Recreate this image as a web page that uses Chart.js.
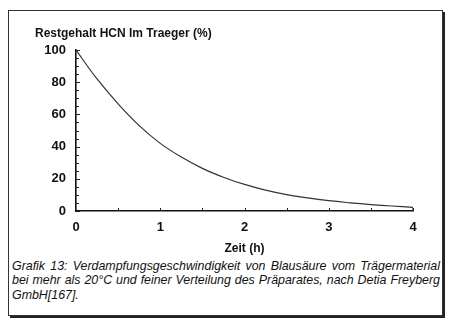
<!DOCTYPE html>
<html>
<head>
<meta charset="utf-8">
<script src="https://cdn.jsdelivr.net/npm/chart.js@4"></script>
<style>
  body { margin: 0; background: #fff; }
  #page { position: relative; width: 454px; height: 322px; overflow: hidden; }
  #frame {
    position: absolute; left: 8px; top: 10px; width: 433px; height: 304px;
    border: 1px solid #333; box-shadow: 2px 2px 0 #222;
  }
  #plot { position: absolute; left: 0; top: 0; width: 454px; height: 258px; }
  #caption {
    position: absolute; left: 12px; top: 259px; width: 428px;
    font: italic 12.4px "Liberation Sans", Arial, sans-serif;
    line-height: 14.3px; color: #111;
  }
  #caption .full { text-align: justify; text-align-last: justify; white-space: nowrap; }
</style>
</head>
<body>
<div id="page">
  <div id="frame"></div>
  <div id="plot"><canvas id="decayChart"></canvas></div>
  <div id="caption">
    <div class="full">Grafik 13: Verdampfungsgeschwindigkeit von Blausäure vom Trägermaterial</div>
    <div class="full">bei mehr als 20°C und feiner Verteilung des Präparates, nach Detia Freyberg</div>
    <div>GmbH[167].</div>
  </div>
</div>
<script>
// time in hours and remaining HCN in the carrier (%)
const hours = [0, 0.25, 0.5, 0.75, 1, 1.25, 1.5, 1.75, 2, 2.25, 2.5, 2.75, 3, 3.25, 3.5, 3.75, 4];
const restHCN = [100, 82, 66.5, 53, 42, 33.5, 26.5, 21, 16.5, 13, 10.2, 8.1, 6.4, 5.1, 4.0, 3.1, 2.3];
// short closing stroke at the end of the curve
const endHours = [4, 4];
const endHCN = [2.3, 0.4];

const yTicks = [0, 20, 40, 60, 80, 100];
const xTicks = [0, 1, 2, 3, 4];
const yMinor = [5, 10, 15, 25, 30, 35, 45, 50, 55, 65, 70, 75, 85, 90, 95];
const xMinor = [0.5, 1.5, 2.5, 3.5];

const font = "'Liberation Sans', Arial, sans-serif";

// inward tick marks along both axes
const innerTicks = {
  id: 'innerTicks',
  afterDraw(chart) {
    const ctx = chart.ctx;
    const x = chart.scales.x, y = chart.scales.y;
    const left = chart.chartArea.left, bottom = chart.chartArea.bottom;
    ctx.save();
    ctx.strokeStyle = '#222';
    ctx.lineWidth = 1;
    yTicks.concat(yMinor).forEach(v => {
      const py = Math.round(y.getPixelForValue(v)) + 0.5;
      const len = yTicks.includes(v) ? 4 : 3;
      ctx.beginPath(); ctx.moveTo(left, py); ctx.lineTo(left + len, py); ctx.stroke();
    });
    xTicks.concat(xMinor).forEach(v => {
      if (v === 0) return;
      const px = Math.round(x.getPixelForValue(v)) + 0.5;
      ctx.beginPath(); ctx.moveTo(px, bottom); ctx.lineTo(px, bottom - 3); ctx.stroke();
    });
    ctx.restore();
  }
};

const ctx = document.getElementById('decayChart').getContext('2d');
new Chart(ctx, {
  type: 'line',
  data: {
    datasets: [{
      data: hours.map((h, i) => ({ x: h, y: restHCN[i] })),
      borderColor: '#333',
      borderWidth: 1.2,
      pointRadius: 0,
      tension: 0.4,
      fill: false
    }, {
      data: endHours.map((h, i) => ({ x: h, y: endHCN[i] })),
      borderColor: '#333',
      borderWidth: 1.2,
      pointRadius: 0,
      tension: 0,
      fill: false
    }]
  },
  options: {
    responsive: true,
    maintainAspectRatio: false,
    animation: false,
    layout: { padding: { left: 35, right: 41, top: 26, bottom: 0 } },
    plugins: {
      legend: { display: false },
      tooltip: { enabled: false },
      title: {
        display: true,
        text: 'Restgehalt HCN Im Traeger (%)',
        align: 'start',
        color: '#111',
        font: { family: font, size: 12, weight: 'bold' },
        padding: { top: 0, bottom: 9.6 }
      }
    },
    scales: {
      x: {
        type: 'linear',
        min: 0, max: 4,
        afterBuildTicks: s => { s.ticks = xTicks.map(v => ({ value: v })); },
        afterFit: s => { s.height = 47; },
        grid: { display: false, drawTicks: false },
        border: { display: true, color: '#111', width: 1.6 },
        ticks: { color: '#111', padding: 9, font: { family: font, size: 13, weight: 'bold' } },
        title: {
          display: true, text: 'Zeit (h)', color: '#111',
          font: { family: font, size: 12, weight: 'bold' },
          padding: { top: 6, bottom: 2 }
        }
      },
      y: {
        type: 'linear',
        min: 0, max: 100,
        afterBuildTicks: s => { s.ticks = yTicks.map(v => ({ value: v })); },
        afterFit: s => { s.width = 41; },
        grid: { display: false, drawTicks: false },
        border: { display: true, color: '#111', width: 1.6 },
        ticks: { color: '#111', padding: 10, font: { family: font, size: 13, weight: 'bold' } }
      }
    }
  },
  plugins: [innerTicks]
});
</script>
</body>
</html>
